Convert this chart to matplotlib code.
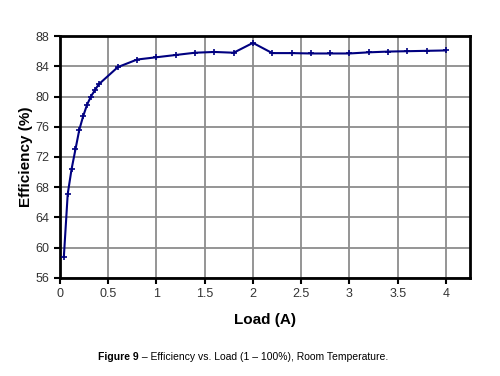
import matplotlib
matplotlib.use('Agg')
from matplotlib import pyplot as plt

plt.rcParams['font.family'] = ['Liberation Sans', 'DejaVu Sans']

# data
load = [0.04, 0.08, 0.12, 0.16, 0.2, 0.24, 0.28, 0.32, 0.36, 0.4,
        0.6, 0.8, 1.0, 1.2, 1.4, 1.6, 1.8, 2.0, 2.2, 2.4, 2.6, 2.8,
        3.0, 3.2, 3.4, 3.6, 3.8, 4.0]
efficiency = [58.8, 67.1, 70.4, 73.0, 75.6, 77.4, 78.9, 80.0, 80.8, 81.6,
              83.9, 84.9, 85.2, 85.5, 85.8, 85.9, 85.8, 87.1, 85.75, 85.75, 85.7, 85.7,
              85.7, 85.85, 85.95, 86.0, 86.05, 86.1]
x_ticks = [0, 0.5, 1, 1.5, 2, 2.5, 3, 3.5, 4]
x_tick_labels = ['0', '0.5', '1', '1.5', '2', '2.5', '3', '3.5', '4']
y_ticks = [56, 60, 64, 68, 72, 76, 80, 84, 88]

fig = plt.figure(figsize=(5.0, 3.76), dpi=100)
ax = fig.add_axes([0.12, 0.261, 0.82, 0.643])

ax.plot(load, efficiency, color='#000080', linewidth=1.5, marker='+',
        markersize=4, markeredgewidth=1.2, zorder=3)

ax.set_xlim(0, 4.25)
ax.set_ylim(56, 88)
ax.set_xticks(x_ticks)
ax.set_xticklabels(x_tick_labels)
ax.set_yticks(y_ticks)
ax.grid(True, color='#8c8c8c', linewidth=1.3)
ax.set_axisbelow(True)
for s in ax.spines.values():
    s.set_linewidth(2)
    s.set_color('black')
ax.tick_params(direction='out', length=4, width=1.5, colors='black',
               labelcolor='#333333', labelsize=9)

ax.set_xlabel('Load (A)', fontsize=11, fontweight='bold', labelpad=9)
ax.set_ylabel('Efficiency (%)', fontsize=11, fontweight='bold', labelpad=2)

# caption with bold lead-in
t1 = fig.text(0.196, 0.05, 'Figure 9', fontsize=7.5, fontweight='bold', va='center')
fig.canvas.draw()
bb = t1.get_window_extent()
fig.text(bb.x1 / fig.bbox.width, 0.05, ' \u2013 Efficiency vs. Load (1 \u2013 100%), Room Temperature.',
         fontsize=7.5, va='center')

plt.savefig('out.png', dpi=100)
